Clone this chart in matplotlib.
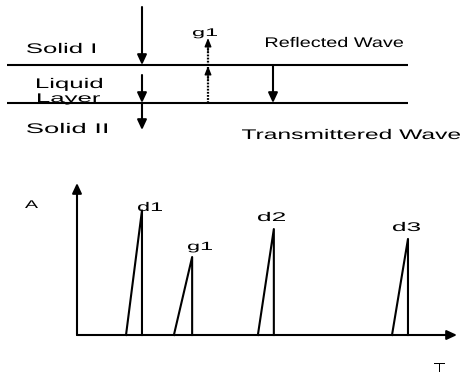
import matplotlib
matplotlib.use("Agg")
import matplotlib.pyplot as plt
from matplotlib.patheffects import AbstractPathEffect
from matplotlib.transforms import Affine2D
from matplotlib.textpath import TextPath
from matplotlib.font_manager import FontProperties

plt.rcParams['font.family'] = ['Liberation Sans', 'DejaVu Sans']

# ---- data ----
layer_labels = ["Solid I", "Liquid", "Layer", "Solid II"]
wave_labels = ["Reflected Wave", "Transmittered Wave"]
peak_names = ["d1", "g1", "d2", "d3"]
peak_start = [12.9, 25.5, 47.6, 82.9]   # T where each pulse begins
peak_time = [17.1, 30.3, 51.8, 87.1]    # T of each pulse maximum
peak_amp = [82.0, 51.3, 69.7, 63.2]     # A of each pulse
axis_labels = ["A", "T"]

# ---- layout (pixel coordinates) ----
W, H = 462, 376
fig = plt.figure(figsize=(W / 100, H / 100), dpi=100)
ax = fig.add_axes([0, 0, 1, 1])
ax.set_xlim(0, W)
ax.set_ylim(H, 0)
ax.axis('off')

FAM = 'Liberation Sans'


class Stretch(AbstractPathEffect):
    def __init__(self, sx):
        super().__init__()
        self.sx = sx

    def draw_path(self, renderer, gc, tpath, affine, rgbFace=None):
        renderer.draw_path(gc, tpath, Affine2D().scale(self.sx, 1) + affine, rgbFace)


def stext(s, x0, x1, base, cap):
    px = cap / 0.716
    tp = TextPath((0, 0), s, size=px, prop=FontProperties(family=FAM))
    ext = tp.get_extents()
    sx = (x1 - x0) / ext.width
    ax.text(x0 - ext.x0 * sx, base, s, fontsize=px * 72 / 100, family=FAM,
            ha='left', va='baseline', color='black', path_effects=[Stretch(sx)])


lw = 1.5
HEAD = '-|>,head_length=0.6,head_width=0.28'


def arrow(a, x0, y0, x1, y1, ls='-', style=HEAD, lw_=lw, **kw):
    a.annotate('', xy=(x1, y1), xytext=(x0, y0),
               arrowprops=dict(arrowstyle=style, color='black', lw=lw_,
                               linestyle=ls, shrinkA=0, shrinkB=0), **kw)


# interfaces
for y in (65, 103):
    ax.plot([7, 408], [y, y], color='black', lw=lw, solid_capstyle='butt')

# incident / transmitted arrows
arrow(ax, 142, 7, 142, 65)
arrow(ax, 142, 75, 142, 103)
arrow(ax, 142, 103, 142, 130)
arrow(ax, 273, 65, 273, 103)

# dotted reflected g1
ax.plot([208, 208], [103, 44], color='black', lw=1.6, ls=(0, (0.8, 0.6)))
arrow(ax, 208, 80, 208, 66, style='-|>,head_length=0.5,head_width=0.2', lw_=1)
arrow(ax, 208, 52, 208, 38, style='-|>,head_length=0.5,head_width=0.2', lw_=1)
stext("g1", 193, 217, 36, 8)

# layer labels
layer_boxes = [(27, 95, 53, 10), (37, 102, 88, 10), (38, 100, 102, 9), (27, 107, 133, 10)]
for lab, (x0, x1, b, c) in zip(layer_labels, layer_boxes):
    stext(lab, x0, x1, b, c)

wave_boxes = [(266, 403, 47, 10), (242, 460, 139, 10)]
for lab, (x0, x1, b, c) in zip(wave_labels, wave_boxes):
    stext(lab, x0, x1, b, c)

# ---- lower panel: pulse train ----
ox, oy = 77, 335
ax2 = fig.add_axes([ox / W, (H - oy) / H, (457 - ox) / W, (oy - 183) / H])
ax2.set_xlim(0, 100)
ax2.set_ylim(0, 100)
ax2.axis('off')
ax2.patch.set_alpha(0)

arrow(ax2, 0, 0, 0, 1, xycoords='axes fraction', textcoords='axes fraction',
      annotation_clip=False)
arrow(ax2, 0, 0, 1, 0, xycoords='axes fraction', textcoords='axes fraction',
      annotation_clip=False)

for s, t, a in zip(peak_start, peak_time, peak_amp):
    ax2.plot([s, t, t], [0, a, 0], color='black', lw=lw, clip_on=False)

label_boxes = [(138, 162, 211, 9), (188, 212, 250, 8.5), (258, 285, 221, 9), (393, 420, 231, 9)]
for name, (x0, x1, b, c) in zip(peak_names, label_boxes):
    stext(name, x0, x1, b, c)

stext(axis_labels[0], 25, 38, 208, 8)
stext(axis_labels[1], 434, 445, 372, 9)

fig.savefig("out.png", dpi=100)
